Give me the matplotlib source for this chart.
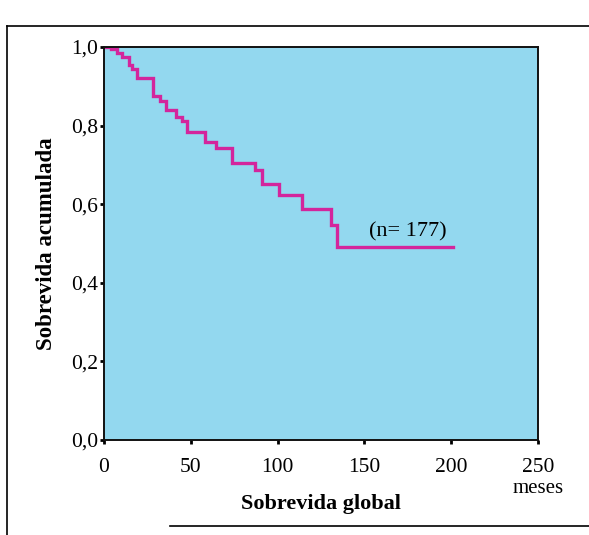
import matplotlib
matplotlib.use("Agg")
import matplotlib.pyplot as plt
from matplotlib.lines import Line2D

# Kaplan-Meier step data (months, cumulative survival after each step)
times = [0, 4, 7.5, 10.5, 14.5, 16, 19, 28, 32, 36, 41.5, 45, 48, 58, 64.5,
         74, 87, 91, 101, 114, 131, 134.5, 201]
surv = [1.0, 0.994, 0.985, 0.975, 0.955, 0.944, 0.921, 0.876, 0.862, 0.840,
        0.821, 0.812, 0.783, 0.757, 0.742, 0.705, 0.687, 0.652, 0.623, 0.588,
        0.547, 0.492, 0.492]

xticks = [0, 50, 100, 150, 200, 250]
xticklabels = ["0", "50", "100", "150", "200", "250"]
yticks = [0.0, 0.2, 0.4, 0.6, 0.8, 1.0]
yticklabels = ["0,0", "0,2", "0,4", "0,6", "0,8", "1,0"]
n_label = "(n= 177)"

plt.rcParams['font.family'] = ['Liberation Serif', 'DejaVu Serif']

W, H = 589, 535
fig = plt.figure(figsize=(W / 100, H / 100), dpi=100)
ax = fig.add_axes([104 / W, 1 - 440 / H, (538 - 104) / W, (440 - 47) / H])
ax.set_facecolor('#93d8ef')

ax.step(times, surv, where='post', color='#d3259c', lw=2.4, solid_joinstyle='miter')

ax.set_xlim(0, 250)
ax.set_ylim(0, 1.0)
ax.set_xticks(xticks)
ax.set_xticklabels(xticklabels, fontsize=15.5)
ax.set_yticks(yticks)
ax.set_yticklabels(yticklabels, fontsize=15.5)
ax.tick_params(axis='both', direction='out', length=3, width=2, color='black')
ax.tick_params(axis='x', pad=10)
ax.tick_params(axis='y', pad=1)
for s in ax.spines.values():
    s.set_linewidth(1.4)
    s.set_color('#111111')

ax.text(175, 0.505, n_label, ha='center', va='bottom', fontsize=16)
ax.text(250, -0.1, "meses", ha='center', va='top', fontsize=15,
        transform=ax.transData, clip_on=False)

ax.set_ylabel("Sobrevida acumulada", fontsize=16.5, fontweight='bold', labelpad=10)
ax.set_xlabel("Sobrevida global", fontsize=16, fontweight='bold', labelpad=12)

# outer frame of the printed figure
fx = lambda p: p / W
fy = lambda p: 1 - p / H
fig.add_artist(Line2D([fx(7), fx(7)], [fy(26), fy(535)], color='black', lw=1.2,
                      transform=fig.transFigure))
fig.add_artist(Line2D([fx(7), fx(589)], [fy(26), fy(26)], color='black', lw=1.2,
                      transform=fig.transFigure))
fig.add_artist(Line2D([fx(170), fx(589)], [fy(526), fy(526)], color='black', lw=1.2,
                      transform=fig.transFigure))

fig.savefig("out.png", dpi=100)
